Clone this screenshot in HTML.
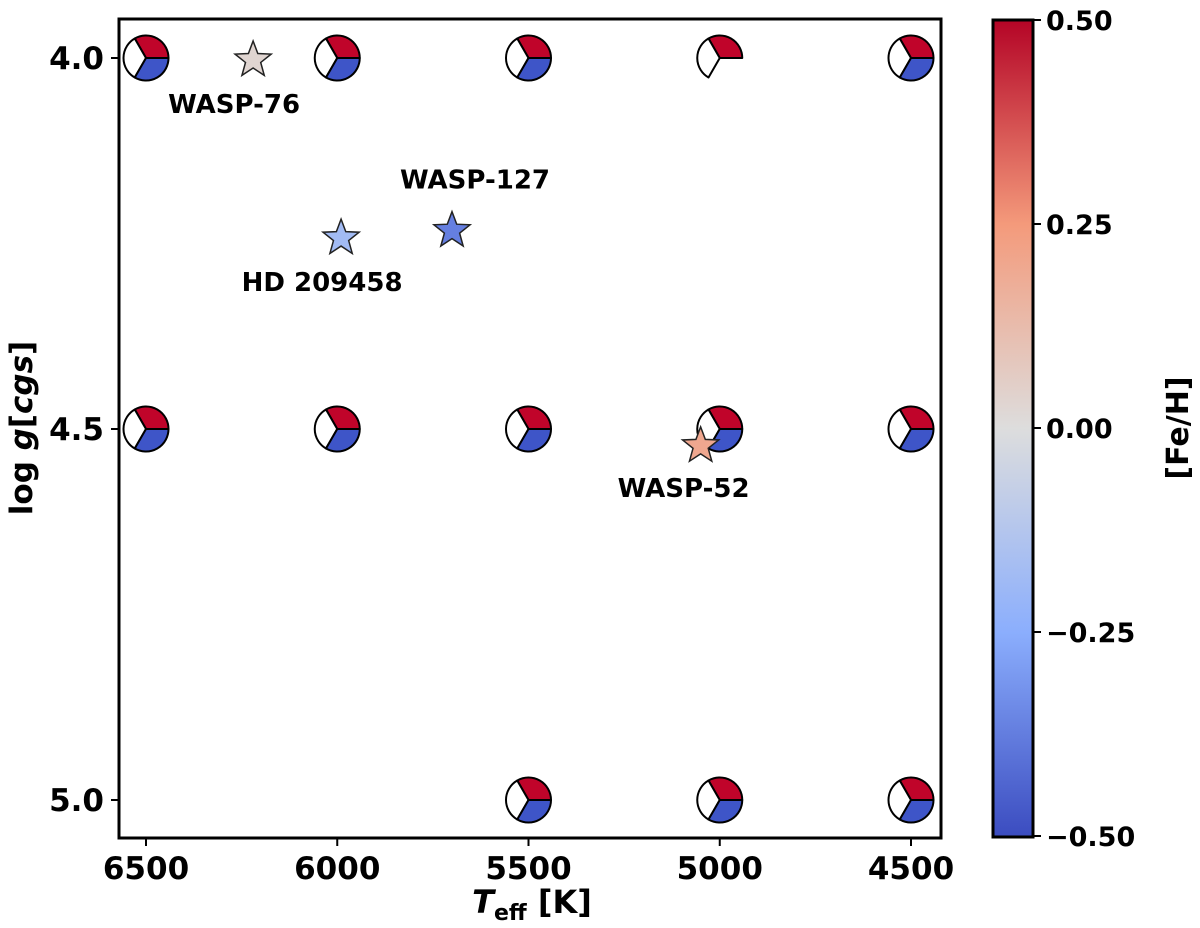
<!DOCTYPE html>
<html><head><meta charset="utf-8"><style>
html,body{margin:0;padding:0;background:#fff;}
svg{display:block;font-family:"DejaVu Sans","Liberation Sans",sans-serif;font-weight:bold;}
</style></head><body>
<svg id="chart" width="1200" height="928" viewBox="0 0 1200 928" xmlns="http://www.w3.org/2000/svg">
<defs>
<linearGradient id="cw" x1="0" y1="1" x2="0" y2="0">
<stop offset="0" stop-color="rgb(59,76,192)"/>
<stop offset="0.25" stop-color="rgb(139,174,253)"/>
<stop offset="0.5" stop-color="rgb(221,221,221)"/>
<stop offset="0.75" stop-color="rgb(244,154,123)"/>
<stop offset="1" stop-color="rgb(180,4,38)"/>
</linearGradient>
</defs>
<g id="plot"></g>
<rect x="119" y="19" width="822" height="819" fill="none" stroke="#000" stroke-width="3"/>
<g id="axes"></g>
<text x="532" y="913" font-size="32" text-anchor="middle"><tspan font-style="italic">T</tspan><tspan font-size="22" dy="7">eff</tspan><tspan dy="-7"> [K]</tspan></text>
<text transform="translate(32,428) rotate(-90)" font-size="31" text-anchor="middle">log <tspan font-style="italic">g</tspan>[<tspan font-style="italic">cgs</tspan>]</text>
<rect x="993" y="20" width="40" height="817" fill="url(#cw)" stroke="#000" stroke-width="3"/>
<g id="cbticks"></g>
<text transform="translate(1188,428) rotate(-90)" font-size="30" text-anchor="middle">[Fe/H]</text>
</svg>
<script>
const xTicks = [6500, 6000, 5500, 5000, 4500];
const yTicks = [4.0, 4.5, 5.0];
const cbTicks = [0.5, 0.25, 0.0, -0.25, -0.5];
const cbLabels = ["0.50", "0.25", "0.00", "\u22120.25", "\u22120.50"];
const gridTeff = [6500, 6000, 5500, 5000, 4500, 6500, 6000, 5500, 5000, 4500, 5500, 5000, 4500];
const gridLogg = [4.0, 4.0, 4.0, 4.0, 4.0, 4.5, 4.5, 4.5, 4.5, 4.5, 5.0, 5.0, 5.0];
const gridHasBlue = [1, 1, 1, 0, 1, 1, 1, 1, 1, 1, 1, 1, 1];
const starNames = ["WASP-76", "HD 209458", "WASP-127", "WASP-52"];
const starTeff = [6220, 5990, 5700, 5050];
const starLogg = [4.0, 4.24, 4.23, 4.52];
const starFeH = [0.03, -0.18, -0.37, 0.20];
const labelDx = [-19, -19, 23, -17];
const labelDy = [55, 55, -40, 53];

const NS = "http://www.w3.org/2000/svg";
const xs = t => 146 + (6500 - t) * (191.25 / 500);
const ys = g => 58 + (g - 4.0) * (742 / 1.0);
const cy = v => 836 - (v + 0.5) * 816;
function mk(tag, attrs, parent) { const e = document.createElementNS(NS, tag); for (const k in attrs) e.setAttribute(k, attrs[k]); parent.appendChild(e); return e; }
function coolwarm(v) {
  const s = [[0,59,76,192],[0.25,139,174,253],[0.5,221,221,221],[0.75,244,154,123],[1,180,4,38]];
  let p = Math.max(0, Math.min(1, (v + 0.5)));
  for (let i = 0; i < 4; i++) if (p <= s[i+1][0]) { const f = (p - s[i][0]) / (s[i+1][0] - s[i][0]);
    return `rgb(${[1,2,3].map(j => Math.round(s[i][j] + f * (s[i+1][j] - s[i][j]))).join(",")})`; }
  return "rgb(180,4,38)";
}
const axes = document.getElementById("axes");
xTicks.forEach(t => {
  const l = mk("line", {x1: xs(t), x2: xs(t), y1: 838, y2: 846, stroke: "#000", "stroke-width": 2}, axes);
  
  
  const tx = mk("text", {x: xs(t), y: 879, "font-size": 31, "text-anchor": "middle"}, axes);
  tx.textContent = t;
  
  
});
yTicks.forEach(g => {
  const l = mk("line", {x1: 111, x2: 119, y1: ys(g), y2: ys(g), stroke: "#000", "stroke-width": 2}, axes);
  
  
  const tx = mk("text", {x: 104, y: ys(g) + 11, "font-size": 31, "text-anchor": "end"}, axes);
  tx.textContent = g.toFixed(1);
  
  
});
const cbg = document.getElementById("cbticks");
cbTicks.forEach((v, i) => {
  const l = mk("line", {x1: 1033, x2: 1041, y1: cy(v), y2: cy(v), stroke: "#000", "stroke-width": 2}, cbg);
  
  
  const tx = mk("text", {x: 1046, y: cy(v) + 10, "font-size": 27}, cbg);
  tx.textContent = cbLabels[i];
  
  
});
const plot = document.getElementById("plot");
const R = 22.5;
function wedge(cx, cyy, a0, a1, fill, parent) {
  const p0 = [cx + R * Math.cos(a0 * Math.PI / 180), cyy - R * Math.sin(a0 * Math.PI / 180)];
  const p1 = [cx + R * Math.cos(a1 * Math.PI / 180), cyy - R * Math.sin(a1 * Math.PI / 180)];
  return mk("path", {d: `M${cx},${cyy} L${p0[0]},${p0[1]} A${R},${R} 0 0 0 ${p1[0]},${p1[1]} Z`, fill: fill, stroke: "#000", "stroke-width": 2, "stroke-linejoin": "round"}, parent);
}
gridTeff.forEach((t, i) => {
  const g = mk("g", {}, plot);
  
  
  const x = xs(t), y = ys(gridLogg[i]);
  wedge(x, y, 0, 120, "#c0042a", g);
  wedge(x, y, 120, 240, "#ffffff", g);
  if (gridHasBlue[i]) wedge(x, y, 240, 360, "#3e55c8", g);
});
function starPath(cx, cyy, ro, ri) {
  let d = "";
  for (let k = 0; k < 10; k++) { const r = k % 2 ? ri : ro; const a = -Math.PI / 2 + k * Math.PI / 5;
    d += (k ? "L" : "M") + (cx + r * Math.cos(a)).toFixed(2) + "," + (cyy + r * Math.sin(a)).toFixed(2); }
  return d + "Z";
}
starNames.forEach((n, i) => {
  const x = xs(starTeff[i]), y = ys(starLogg[i]);
  const s = mk("path", {d: starPath(x, y + 2, 19, 8), fill: coolwarm(starFeH[i]), stroke: "#222", "stroke-width": 1.5}, plot);
  
  
  const tx = mk("text", {x: x + labelDx[i], y: y + labelDy[i], "font-size": 26, "text-anchor": "middle"}, plot);
  tx.textContent = n;
  
  
});
</script>
</body></html>
